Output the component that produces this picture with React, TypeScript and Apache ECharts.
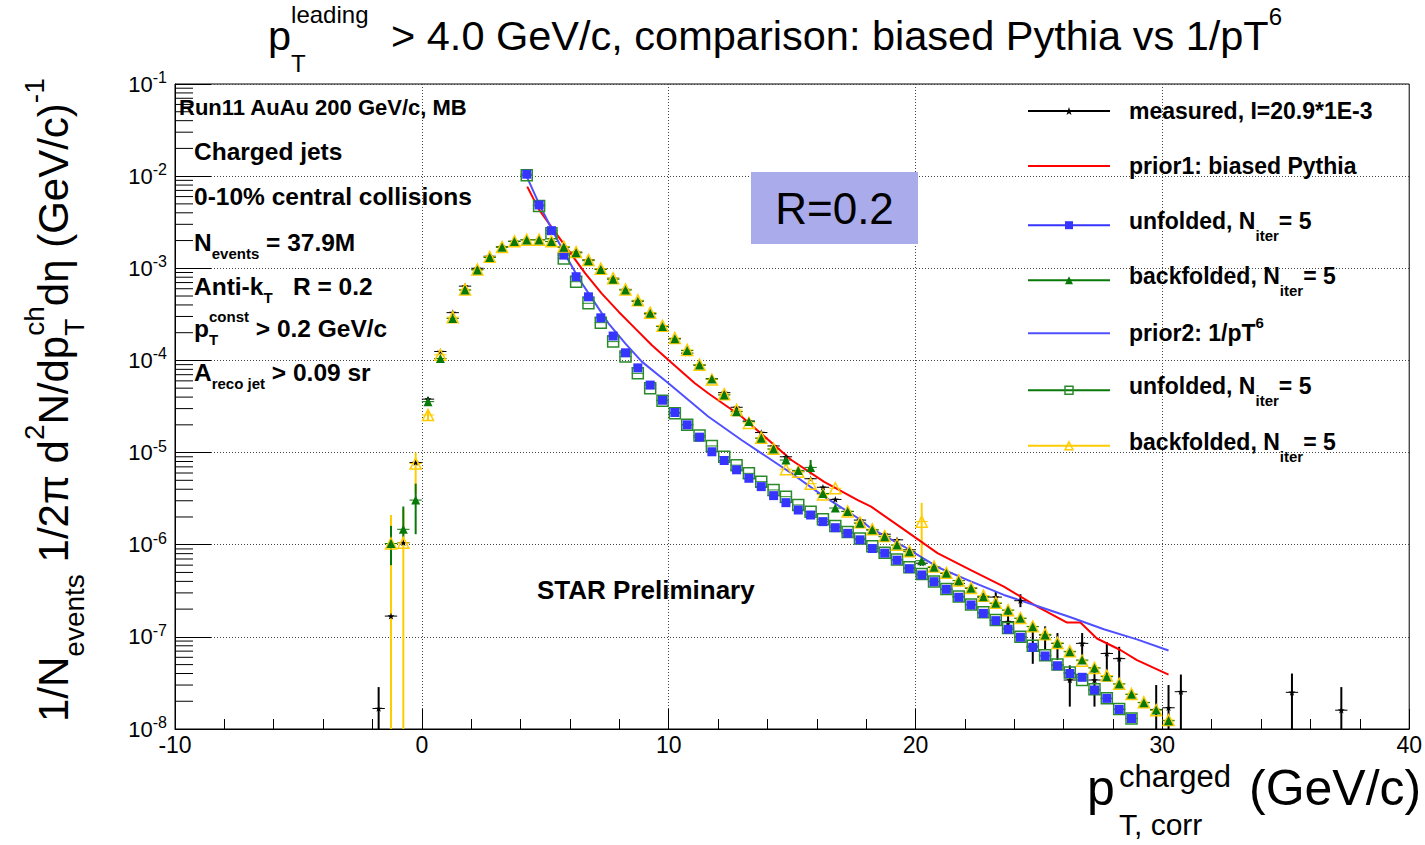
import React, { useEffect, useRef } from "react";
import * as echarts from "echarts";

const FONT = '"Liberation Sans", Arial, Helvetica, sans-serif';
const CENTRAL = 0.3465; // central baseline offset (em) for Liberation Sans

// ---------- axes ----------
const X_MIN = -10;
const X_MAX = 40;
const X_INTERVAL = 10;
const Y_MIN = 1e-8;
const Y_MAX = 1e-1;
const BIN_WIDTH = 0.5;
const BIN_HALF = 0.25;

// ---------- colours ----------
const C_BLACK = "#000000";
const C_RED = "#ff0000";
const C_BLUE_MARK = "#3535ff";
const C_BLUE_LINE = "#5050ff";
const C_GREEN = "#087808";
const C_GREEN_OPEN = "#2a8a2a";
const C_YELLOW = "#ffcc00";

// ---------- data ----------
// measured spectrum [pT, value]
const measured: [number, number][] = [
  [-1.75, 1.67e-8], [-1.25, 1.68e-7], [-0.75, 1.05e-6], [-0.25, 7.8e-6], [0.25, 3.8e-5],
  [0.75, 1.25e-4], [1.25, 3.3e-4], [1.75, 6.4e-4], [2.25, 1.0e-3], [2.75, 1.35e-3],
  [3.25, 1.72e-3], [3.75, 1.97e-3], [4.25, 2.05e-3], [4.75, 2.05e-3], [5.25, 1.95e-3],
  [5.75, 1.72e-3], [6.25, 1.5e-3], [6.75, 1.24e-3], [7.25, 9.9e-4], [7.75, 7.8e-4],
  [8.25, 5.9e-4], [8.75, 4.4e-4], [9.25, 3.2e-4], [9.75, 2.35e-4], [10.25, 1.72e-4],
  [10.75, 1.2e-4], [11.25, 8.9e-5], [11.75, 6.3e-5], [12.25, 4.47e-5], [12.75, 3.1e-5],
  [13.25, 2.2e-5], [13.75, 1.65e-5], [14.25, 1.18e-5], [14.75, 9.0e-6], [15.25, 6.2e-6],
  [15.75, 5.2e-6], [16.25, 4.2e-6], [16.75, 3.1e-6], [17.25, 2.3e-6], [17.75, 1.85e-6],
  [18.25, 1.45e-6], [18.75, 1.3e-6], [19.25, 1.13e-6], [19.75, 8.8e-7], [20.25, 6.3e-7],
  [20.75, 5.7e-7], [21.25, 4.9e-7], [21.75, 3.8e-7], [22.25, 3.4e-7], [22.75, 2.7e-7],
  [23.25, 2.7e-7], [23.75, 1.46e-7], [24.25, 2.47e-7], [24.75, 7.8e-8], [25.25, 1.05e-7],
  [25.75, 8.5e-8], [26.25, 3.4e-8], [26.75, 8.5e-8], [27.25, 3.4e-8], [27.75, 6.6e-8],
  [28.25, 5.8e-8], [29.75, 1.63e-8], [30.25, 1.7e-8], [30.75, 2.54e-8], [35.25, 2.5e-8],
  [37.25, 1.6e-8],
];
// measured error bars [pT, low, high]
const measuredErr: [number, number, number][] = [
  [-1.75, 1e-9, 2.85e-8], [22.75, 2.4e-7, 3.0e-7], [23.25, 2.35e-7, 3.1e-7],
  [23.75, 1.2e-7, 1.75e-7], [24.25, 2.1e-7, 2.9e-7], [24.75, 5.1e-8, 1.3e-7],
  [25.25, 7.2e-8, 1.3e-7], [25.75, 5.6e-8, 1.1e-7], [26.25, 1.75e-8, 4.9e-8],
  [26.75, 6.0e-8, 1.1e-7], [27.25, 1.75e-8, 4.6e-8], [27.75, 3.5e-8, 8.8e-8],
  [28.25, 3.5e-8, 7.8e-8], [29.75, 1e-9, 3.0e-8], [30.25, 1e-9, 3.0e-8],
  [30.75, 1e-9, 3.9e-8], [35.25, 1e-9, 4.0e-8], [37.25, 1e-9, 2.85e-8],
];

// prior1: biased Pythia (line) [pT, value]
const priorBiasedPythia: [number, number][] = [
  [4.27, 7.7e-3], [4.74, 4.36e-3], [5.48, 2.3e-3], [6.08, 1.39e-3], [6.62, 8.8e-4],
  [7.29, 5.3e-4], [7.97, 3.38e-4], [8.64, 2.23e-4], [9.31, 1.47e-4], [9.99, 1.01e-4],
  [11.06, 5.65e-5], [11.6, 4.4e-5], [12.95, 2.46e-5], [14.97, 8.3e-6], [16.3, 4.8e-6],
  [17.66, 3.05e-6], [18.2, 2.59e-6], [19.55, 1.45e-6], [20.89, 8.1e-7], [22.24, 5.3e-7],
  [23.58, 3.5e-7], [24.93, 2.13e-7], [26.14, 1.43e-7], [26.68, 1.43e-7], [27.35, 9.6e-8],
  [28.3, 7.2e-8], [28.97, 5.6e-8], [30.25, 3.9e-8],
];
// prior2: 1/pT^6 (line) [pT, value]
const priorPowerLaw: [number, number][] = [
  [4.22, 1.03e-2], [4.74, 5.07e-3], [5.28, 2.6e-3], [5.82, 1.39e-3], [6.35, 7.8e-4],
  [6.89, 4.72e-4], [7.56, 2.53e-4], [8.24, 1.53e-4], [8.91, 9.7e-5], [9.99, 5.65e-5],
  [11.6, 2.46e-5], [12.95, 1.37e-5], [14.97, 5.96e-6], [16.3, 3.33e-6], [17.66, 1.95e-6],
  [18.2, 1.5e-6], [19.55, 9.5e-7], [20.9, 5.7e-7], [22.24, 4.0e-7], [23.58, 2.85e-7],
  [24.93, 2.16e-7], [26.28, 1.63e-7], [27.63, 1.21e-7], [28.97, 9.4e-8], [30.25, 7.1e-8],
];

// unfolded spectra, bins from 4.25 in steps of 0.5
const unfoldedFirstBin = 4.25;
const unfoldedBiased = [
  1.05e-2, 4.87e-3, 2.56e-3, 1.39e-3, 8.1e-4, 4.9e-4, 2.9e-4, 1.84e-4, 1.21e-4, 8.3e-5,
  5.4e-5, 3.7e-5, 2.72e-5, 2.0e-5, 1.47e-5, 1.02e-5, 8.2e-6, 6.5e-6, 5.26e-6, 4.27e-6,
  3.41e-6, 2.86e-6, 2.38e-6, 2.1e-6, 1.78e-6, 1.53e-6, 1.33e-6, 1.13e-6, 9.1e-7, 8.1e-7,
  6.8e-7, 5.5e-7, 4.7e-7, 3.97e-7, 3.28e-7, 2.69e-7, 2.22e-7, 1.8e-7, 1.5e-7, 1.21e-7,
  9.9e-8, 7.7e-8, 6.2e-8, 4.86e-8, 4.0e-8, 3.64e-8, 2.65e-8, 2.15e-8, 1.63e-8, 1.3e-8,
];
const unfoldedPowerLaw = [
  1.02e-2, 4.75e-3, 2.4e-3, 1.28e-3, 7.15e-4, 4.17e-4, 2.57e-4, 1.6e-4, 1.1e-4, 7.24e-5,
  4.98e-5, 3.66e-5, 2.67e-5, 2.0e-5, 1.53e-5, 1.18e-5, 9.0e-6, 7.3e-6, 5.95e-6, 4.83e-6,
  3.93e-6, 3.32e-6, 2.7e-6, 2.28e-6, 1.89e-6, 1.6e-6, 1.37e-6, 1.17e-6, 9.6e-7, 8.2e-7,
  6.9e-7, 5.7e-7, 4.8e-7, 4.0e-7, 3.3e-7, 2.75e-7, 2.25e-7, 1.85e-7, 1.52e-7, 1.25e-7,
  1.0e-7, 8.0e-8, 6.3e-8, 5.0e-8, 4.1e-8, 3.4e-8, 2.7e-8, 2.15e-8, 1.65e-8, 1.3e-8,
];

// backfolded spectra, bins from -1.25 in steps of 0.5
const backfoldedFirstBin = -1.25;
const backfoldedBiased = [
  1.03e-6, 1.47e-6, 3.05e-6, 3.57e-5, 1.05e-4, 2.86e-4, 5.8e-4, 9.6e-4, 1.31e-3, 1.69e-3,
  1.95e-3, 2.03e-3, 2.03e-3, 1.95e-3, 1.69e-3, 1.47e-3, 1.21e-3, 9.7e-4, 7.6e-4, 5.8e-4,
  4.4e-4, 3.25e-4, 2.33e-4, 1.72e-4, 1.28e-4, 8.9e-5, 6.3e-5, 4.22e-5, 2.78e-5, 2.17e-5,
  1.43e-5, 1.09e-5, 8.3e-6, 6.4e-6, 6.9e-6, 3.6e-6, 2.5e-6, 2.29e-6, 1.71e-6, 1.45e-6,
  1.22e-6, 9.9e-7, 8.4e-7, 6.7e-7, 5.7e-7, 4.9e-7, 4.07e-7, 3.36e-7, 2.73e-7, 2.31e-7,
  1.95e-7, 1.59e-7, 1.29e-7, 1.05e-7, 8.5e-8, 6.9e-8, 5.6e-8, 4.6e-8, 3.7e-8, 3.08e-8,
  2.38e-8, 1.93e-8, 1.61e-8, 1.23e-8,
];
const backfoldedBiasedErr: [number, number, number][] = [
  [-1.25, 6.0e-7, 1.6e-6], [-0.75, 1.2e-6, 2.6e-6], [-0.25, 1.3e-6, 4.6e-6],
  [0.25, 3.2e-5, 4.0e-5], [15.75, 5.8e-6, 8.3e-6],
];
const backfoldedPowerLaw = [
  1.03e-6, 1.05e-6, 7.6e-6, 2.56e-5, 1.15e-4, 2.95e-4, 5.9e-4, 9.7e-4, 1.33e-3, 1.7e-3,
  1.96e-3, 2.04e-3, 2.04e-3, 1.96e-3, 1.72e-3, 1.5e-3, 1.23e-3, 9.9e-4, 7.8e-4, 5.9e-4,
  4.5e-4, 3.3e-4, 2.38e-4, 1.75e-4, 1.3e-4, 9.0e-5, 6.2e-5, 4.3e-5, 2.9e-5, 2.1e-5,
  1.45e-5, 1.1e-5, 6.6e-6, 6.2e-6, 4.6e-6, 3.5e-6, 4.1e-6, 2.3e-6, 1.75e-6, 1.47e-6,
  1.24e-6, 1.0e-6, 8.5e-7, 1.78e-6, 5.8e-7, 4.95e-7, 4.1e-7, 3.4e-7, 2.8e-7, 2.35e-7,
  1.95e-7, 1.6e-7, 1.3e-7, 1.07e-7, 8.6e-8, 7.0e-8, 5.5e-8, 4.6e-8, 3.8e-8, 3.1e-8,
  2.4e-8, 1.95e-8, 1.6e-8, 1.25e-8,
];
const backfoldedPowerLawErr: [number, number, number][] = [
  [-1.25, 1e-9, 2.1e-6], [-0.75, 1e-9, 2.4e-6], [-0.25, 3.6e-6, 1.0e-5],
  [0.25, 2.2e-5, 2.9e-5], [20.25, 6.8e-7, 2.84e-6],
];

// axis tick labels
const xTickValues = [-10, 0, 10, 20, 30, 40];

// ---------- helpers ----------
const binned = (first: number, vals: number[]): [number, number][] =>
  vals.map((v, i) => [first + i * BIN_WIDTH, v]);

const withErr = (pts: [number, number][], errs: [number, number, number][]) =>
  pts.map(([x, y]) => {
    const e = errs.find((r) => Math.abs(r[0] - x) < 1e-6);
    return [x, y, e ? e[1] : y, e ? e[2] : y];
  });

const STAR_PATH =
  "path://M0,-10L2.35,-3.24L9.51,-3.09L3.8,1.24L5.88,8.09L0,4L-5.88,8.09L-3.8,1.24L-9.51,-3.09L-2.35,-3.24Z";

let measureCtx: CanvasRenderingContext2D | null = null;
function textWidth(t: string, size: number, weight: string): number {
  if (!measureCtx) measureCtx = document.createElement("canvas").getContext("2d");
  if (!measureCtx) return t.length * size * 0.55;
  measureCtx.font = `${weight} ${size}px ${FONT}`;
  return measureCtx.measureText(t).width;
}

type Seg = { t: string; size: number; dy?: number; stack?: boolean; at?: number };
function segText(segs: Seg[], x0: number, baseline: number, weight: string, z = 20): any[] {
  const els: any[] = [];
  let x = x0;
  let stackW = 0;
  for (const s of segs) {
    if (s.at != null) x = s.at;
    const w = textWidth(s.t, s.size, weight);
    els.push({
      type: "text",
      x,
      y: baseline + (s.dy ?? 0) - CENTRAL * s.size,
      z,
      silent: true,
      style: {
        text: s.t,
        fontFamily: FONT,
        fontSize: s.size,
        fontWeight: weight,
        lineHeight: s.size,
        fill: "#000",
        align: "left",
        verticalAlign: "middle",
      },
    });
    if (s.stack) stackW = Math.max(stackW, w);
    else {
      x += Math.max(w, stackW);
      stackW = 0;
    }
  }
  return els;
}

const errorSeries = (data: any[], color: string, vWidth = 2) => ({
  type: "custom",
  data,
  encode: { x: 0, y: 1 },
  silent: true,
  z: 3,
  renderItem: (params: any, api: any) => {
    const x = api.value(0);
    const y = api.value(1);
    const lo = api.value(2);
    const hi = api.value(3);
    const cs = params.coordSys;
    const yBottom = cs.y + cs.height;
    const l = api.coord([x - BIN_HALF, y]);
    const r = api.coord([x + BIN_HALF, y]);
    const children: any[] = [
      { type: "line", shape: { x1: l[0], y1: l[1], x2: r[0], y2: r[1] }, style: { stroke: color, lineWidth: 1 } },
    ];
    if (hi > lo) {
      const top = api.coord([x, hi]);
      const bot = api.coord([x, lo]);
      children.push({
        type: "line",
        shape: { x1: top[0], y1: Math.max(top[1], cs.y), x2: bot[0], y2: Math.min(bot[1], yBottom) },
        style: { stroke: color, lineWidth: vWidth },
      });
    }
    return { type: "group", children };
  },
});

const pointSeries = (name: string, data: any[], symbol: string, size: number, itemStyle: any) => ({
  name,
  type: "line",
  data,
  symbol,
  symbolSize: size,
  symbolKeepAspect: true,
  showSymbol: true,
  showAllSymbol: true,
  lineStyle: { width: 0, opacity: 0 },
  itemStyle,
  silent: true,
  emphasis: { disabled: true },
  z: 3,
});

const LEGEND_TEXT: Record<string, string> = {
  measured: "{m|measured, I=20.9*1E-3}",
  prior1: "{m|prior1: biased Pythia}",
  unfolded1: "{ms|unfolded, N}{s|iter}{ms|= 5}",
  backfolded1: "{ms|backfolded, N}{s|iter}{ms|= 5}",
  prior2: "{m|prior2: 1/pT}{p|6}",
  unfolded2: "{ms|unfolded, N}{s|iter}{ms|= 5}",
  backfolded2: "{ms|backfolded, N}{s|iter}{ms|= 5}",
};

const LEGEND_RICH = {
  m: { fontFamily: FONT, fontSize: 23, fontWeight: "bold", color: "#000", lineHeight: 24 },
  ms: { fontFamily: FONT, fontSize: 23, fontWeight: "bold", color: "#000", lineHeight: 24, height: 24, verticalAlign: "top" },
  s: { fontFamily: FONT, fontSize: 15, fontWeight: "bold", color: "#000", lineHeight: 27.5, height: 2, verticalAlign: "bottom" },
  p: { fontFamily: FONT, fontSize: 15, fontWeight: "bold", color: "#000", lineHeight: 24, height: 2, verticalAlign: "top" },
};

function legendRow(top: number, item: any) {
  return {
    orient: "vertical",
    left: 1027,
    top,
    padding: 0,
    itemWidth: 82,
    itemHeight: 10,
    itemGap: 0,
    selectedMode: false,
    formatter: (n: string) => LEGEND_TEXT[n] ?? n,
    textStyle: { color: "#000", fontFamily: FONT, fontSize: 23, fontWeight: "bold", rich: LEGEND_RICH },
    data: [item],
  };
}

function buildOption() {
  const yMinorTicks: [number, number][] = [];
  for (let e = -8; e <= -2; e++) for (let k = 2; k <= 9; k++) yMinorTicks.push([X_MIN, k * Math.pow(10, e)]);

  const measuredPts = withErr(measured, measuredErr);
  const unfBiased = withErr(binned(unfoldedFirstBin, unfoldedBiased), []);
  const unfPower = withErr(binned(unfoldedFirstBin, unfoldedPowerLaw), []);
  const bfBiased = withErr(binned(backfoldedFirstBin, backfoldedBiased), backfoldedBiasedErr);
  const bfPower = withErr(binned(backfoldedFirstBin, backfoldedPowerLaw), backfoldedPowerLawErr);

  const plainPad = [4, 0, 4, 14];
  const subPad = [0, 0, 4.5, 14];

  const graphics: any[] = [
    // R=0.2 box
    { type: "rect", z: 15, silent: true, shape: { x: 751, y: 172, width: 167, height: 72 }, style: { fill: "#aaabea" } },
    {
      type: "text", z: 16, silent: true, x: 834.5, y: 208,
      style: { text: "R=0.2", fontFamily: FONT, fontSize: 44, fill: "#000", align: "center", verticalAlign: "middle" },
    },
    ...segText([{ t: "STAR Preliminary", size: 26 }], 537, 599, "bold"),
    // annotations
    ...segText([{ t: "Run11 AuAu 200 GeV/c, MB", size: 22 }], 179, 115, "bold"),
    ...segText([{ t: "Charged jets", size: 24.5 }], 194, 160, "bold"),
    ...segText([{ t: "0-10% central collisions", size: 24.5 }], 194, 205, "bold"),
    ...segText([{ t: "N", size: 24.5 }, { t: "events", size: 15, dy: 8 }, { t: " = 37.9M", size: 24.5 }], 194, 251, "bold"),
    ...segText([{ t: "Anti-k", size: 24.5 }, { t: "T", size: 15, dy: 8 }, { t: "   R = 0.2", size: 24.5 }], 194, 295, "bold"),
    ...segText(
      [{ t: "p", size: 24.5 }, { t: "const", size: 15, dy: -15, stack: true }, { t: "T", size: 15, dy: 8 }, { t: " > 0.2 GeV/c", size: 24.5 }],
      194, 337, "bold"
    ),
    ...segText([{ t: "A", size: 24.5 }, { t: "reco jet", size: 15, dy: 8 }, { t: " > 0.09 sr", size: 24.5 }], 194, 381, "bold"),
    // title
    ...segText(
      [
        { t: "p", size: 41.5 },
        { t: "leading", size: 24, dy: -27, stack: true },
        { t: "T", size: 24, dy: 22 },
        { t: "> 4.0 GeV/c, comparison: biased Pythia vs 1/pT", size: 41.5, at: 391 },
        { t: "6", size: 24, dy: -25 },
      ],
      268, 50, "normal"
    ),
    // x-axis title
    ...segText(
      [
        { t: "p", size: 50 },
        { t: "charged", size: 31, dy: -18, stack: true, at: 1119 },
        { t: "T, corr", size: 30, dy: 30 },
        { t: "(GeV/c)", size: 50, at: 1249 },
      ],
      1087, 805, "normal"
    ),
    // y-axis title (rotated)
    {
      type: "group",
      x: 68,
      y: 722,
      rotation: Math.PI / 2,
      z: 20,
      silent: true,
      children: segText(
        [
          { t: "1/N", size: 42 },
          { t: "events", size: 28, dy: 16 },
          { t: " 1/2π d", size: 42 },
          { t: "2", size: 28, dy: -24 },
          { t: "N/dp", size: 42 },
          { t: "ch", size: 28, dy: -24, stack: true },
          { t: "T", size: 28, dy: 16 },
          { t: "dη (GeV/c)", size: 42 },
          { t: "-1", size: 28, dy: -24 },
        ],
        0, 0, "normal"
      ),
    },
  ];

  return {
    animation: false,
    backgroundColor: "#ffffff",
    textStyle: { fontFamily: FONT },
    grid: {
      left: 175, top: 84, width: 1238, height: 645,
      show: true, borderColor: "#000", borderWidth: 1, backgroundColor: "rgba(0,0,0,0)",
    },
    xAxis: {
      type: "value",
      min: X_MIN,
      max: X_MAX,
      interval: X_INTERVAL,
      axisLine: { show: true, onZero: false, lineStyle: { color: "#000", width: 1 } },
      axisTick: { show: true, inside: true, length: 20, lineStyle: { color: "#000" } },
      minorTick: { show: true, splitNumber: 5, length: 10, lineStyle: { color: "#000" } },
      axisLabel: {
        color: "#000", fontSize: 23, lineHeight: 20, fontFamily: FONT, margin: 6,
        formatter: (v: number) => (xTickValues.includes(v) ? String(v) : ""),
      },
      splitLine: { show: true, lineStyle: { color: "#444", type: [1, 2], width: 1 } },
    },
    yAxis: {
      type: "log",
      logBase: 10,
      min: Y_MIN,
      max: Y_MAX,
      axisLine: { show: true, onZero: false, lineStyle: { color: "#000", width: 1 } },
      axisTick: { show: true, inside: true, length: 36, lineStyle: { color: "#000" } },
      axisLabel: {
        margin: 8,
        formatter: (v: number) => `{b|10}{s|${Math.round(Math.log10(v))}}`,
        rich: {
          b: { fontFamily: FONT, fontSize: 22, color: "#000", lineHeight: 24 },
          s: { fontFamily: FONT, fontSize: 16, color: "#000", lineHeight: 24, height: 11, verticalAlign: "top" },
        },
      },
      splitLine: { show: true, lineStyle: { color: "#444", type: [1, 2], width: 1 } },
    },
    legend: [
      legendRow(99.5, { name: "measured", itemStyle: { color: C_BLACK, borderWidth: 0 }, lineStyle: { color: C_BLACK, width: 2, opacity: 1 }, textStyle: { padding: plainPad } }),
      legendRow(154.5, { name: "prior1", itemStyle: { color: "rgba(0,0,0,0)", borderWidth: 0 }, lineStyle: { color: C_RED, width: 2, opacity: 1 }, textStyle: { padding: plainPad } }),
      legendRow(209.2, { name: "unfolded1", itemStyle: { color: C_BLUE_MARK, borderWidth: 0 }, lineStyle: { color: C_BLUE_MARK, width: 2, opacity: 1 }, textStyle: { padding: subPad } }),
      legendRow(264.2, { name: "backfolded1", itemStyle: { color: C_GREEN, borderWidth: 0 }, lineStyle: { color: C_GREEN, width: 2, opacity: 1 }, textStyle: { padding: subPad } }),
      legendRow(314.7, { name: "prior2", itemStyle: { color: "rgba(0,0,0,0)", borderWidth: 0 }, lineStyle: { color: C_BLUE_LINE, width: 2, opacity: 1 }, textStyle: { padding: plainPad } }),
      legendRow(374.3, { name: "unfolded2", itemStyle: { color: "rgba(0,0,0,0)", borderColor: C_GREEN_OPEN, borderWidth: 1.5 }, lineStyle: { color: C_GREEN, width: 2, opacity: 1 }, textStyle: { padding: subPad } }),
      legendRow(429.8, { name: "backfolded2", itemStyle: { color: "rgba(0,0,0,0)", borderColor: C_YELLOW, borderWidth: 1.5 }, lineStyle: { color: C_YELLOW, width: 2, opacity: 1 }, textStyle: { padding: subPad } }),
    ],
    graphic: { elements: graphics },
    series: [
      errorSeries(measuredPts, C_BLACK, 2),
      pointSeries("measured", measuredPts, STAR_PATH, 7, { color: C_BLACK, borderWidth: 0 }),
      {
        name: "prior1", type: "line", data: priorBiasedPythia, symbol: "none", silent: true, z: 3,
        lineStyle: { color: C_RED, width: 2 }, itemStyle: { color: C_RED }, emphasis: { disabled: true },
      },
      errorSeries(unfPower, C_GREEN_OPEN, 1),
      pointSeries("unfolded2", unfPower, "rect", 11, { color: "rgba(255,255,255,0)", borderColor: C_GREEN_OPEN, borderWidth: 1.5 }),
      errorSeries(unfBiased, C_BLUE_MARK, 1),
      pointSeries("unfolded1", unfBiased, "rect", 9, { color: C_BLUE_MARK, borderWidth: 0 }),
      errorSeries(bfPower, C_YELLOW, 2),
      pointSeries("backfolded2", bfPower, "triangle", 11, { color: "rgba(255,255,255,0)", borderColor: C_YELLOW, borderWidth: 1.5 }),
      errorSeries(bfBiased, C_GREEN, 2),
      pointSeries("backfolded1", bfBiased, "triangle", 9, { color: C_GREEN, borderWidth: 0 }),
      {
        name: "prior2", type: "line", data: priorPowerLaw, symbol: "none", silent: true, z: 3,
        lineStyle: { color: C_BLUE_LINE, width: 2 }, itemStyle: { color: C_BLUE_LINE }, emphasis: { disabled: true },
      },
      {
        type: "custom",
        data: yMinorTicks,
        encode: { x: 0, y: 1 },
        silent: true,
        z: 5,
        renderItem: (_params: any, api: any) => {
          const p = api.coord([api.value(0), api.value(1)]);
          return { type: "line", shape: { x1: p[0], y1: p[1], x2: p[0] + 18, y2: p[1] }, style: { stroke: "#000", lineWidth: 1 } };
        },
      },
    ],
  };
}

export default function App() {
  const ref = useRef<HTMLDivElement>(null);
  useEffect(() => {
    document.body.style.margin = "0";
    if (!ref.current) return;
    const chart = echarts.init(ref.current, undefined, { renderer: "svg", width: 1425, height: 845 });
    chart.setOption(buildOption() as any);
    return () => chart.dispose();
  }, []);
  return <div ref={ref} style={{ width: 1425, height: 845, background: "#fff" }} />;
}
